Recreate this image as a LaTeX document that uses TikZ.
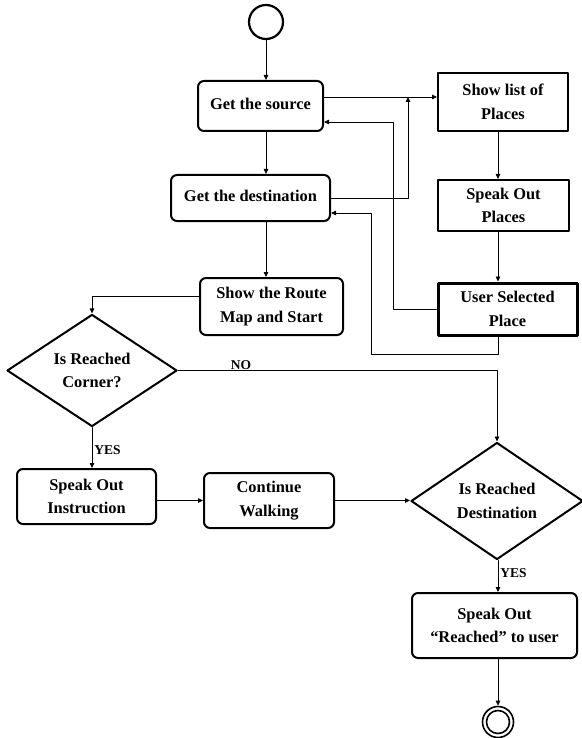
\documentclass[tikz,border=0pt]{standalone}
\usepackage{fontspec}
\setmainfont{Liberation Serif}
\usepackage{tikz}
\usetikzlibrary{arrows.meta}
\usetikzlibrary{shapes.geometric}

\tikzset{
  actbox/.style={draw,line width=2pt,rounded corners=6pt,align=center,inner sep=0pt},
  listbox/.style={draw,line width=2pt,align=center,inner sep=0pt},
  selbox/.style={draw,line width=3pt,align=center,inner sep=0pt},
  decide/.style={draw,diamond,line width=2pt,align=center,inner sep=0pt},
  lbl/.style={font=\bfseries\fontsize{13.5}{15}\selectfont,inner sep=0pt},
}

\begin{document}
\begin{tikzpicture}[line cap=round,line join=round,>={Triangle[length=5pt,width=4.5pt]},x=1pt,y=-1pt,
  font=\bfseries\fontsize{16.4}{23.5}\selectfont,line width=0.8pt]
\useasboundingbox (0,0) rectangle (581,738);
%\draw[help lines] (0,0) grid[step=50] (581,738);
\node[circle,draw,line width=2.2pt,minimum size=34pt] (start) at (266,22) {};
\node[actbox,minimum width=125pt,minimum height=50pt] (src) at (260.5,106) {\raisebox{5pt}{Get the source}};
\node[actbox,minimum width=159pt,minimum height=46pt] (dst) at (250.5,198) {\raisebox{5pt}{Get the destination}};
\node[actbox,minimum width=143pt,minimum height=57pt] (route) at (271.5,306.5) {Show the Route\\Map and Start};
\node[listbox,minimum width=130pt,minimum height=58pt] (list) at (503,102) {Show list of\\Places};
\node[listbox,minimum width=131pt,minimum height=51pt] (spk) at (503.5,205.5) {Speak Out\\Places};
\node[selbox,minimum width=139pt,minimum height=52pt] (usr) at (507.5,309) {User Selected\\Place};
\node[decide,minimum width=170pt,minimum height=111pt] (corner) at (92,370.5) {Is Reached\\Corner?};
\node[actbox,minimum width=139pt,minimum height=55pt] (instr) at (86.5,496.5) {Speak Out\\Instruction};
\node[actbox,minimum width=130pt,minimum height=55pt] (walk) at (269,500.5) {Continue\\Walking};
\node[decide,minimum width=172pt,minimum height=117pt] (destq) at (497,501) {Is Reached\\Destination};
\node[actbox,minimum width=165pt,minimum height=65pt] (reached) at (494.5,625.5) {Speak Out\\“Reached” to user};
\node[circle,draw,line width=1.6pt,minimum size=31pt] (end) at (498,722) {};
\node[circle,draw,line width=1.6pt,minimum size=23pt] (endin) at (end) {};

\coordinate (rcol) at (498,0);
\coordinate (j1) at (408,97);
\coordinate (j2) at (393,122);
\coordinate (j3) at (371,354);
\coordinate (j4) at (371,213);
\coordinate (j5) at (92,296);

\node[lbl] (lblno) at (241,365) {NO};
\node[lbl,anchor=west] (lblyes) at (94,450) {YES};
\node[lbl,anchor=west] (lblyes2) at (500,573) {YES};

\draw[->] (start.south) -- (start |- src.north);
\draw[->] (start |- src.south) -- (start |- dst.north);
\draw[->] (start |- dst.south) -- (start |- route.north);
\draw[->] (src.east |- j1) -- (list.west |- j1);
\draw[->] (dst.east) -| (j1);
\draw[->] (rcol |- list.south) -- (rcol |- spk.north);
\draw[->] (rcol |- spk.south) -- (rcol |- usr.north);
\draw[->] (usr.west) -| (j2) -- (src.east |- j2);
\draw[->] (rcol |- usr.south) -- (rcol |- j3) -- (j3) -- (j4) -- (dst.east |- j4);
\draw[->] (route.west |- j5) -| (corner.north);
\draw[->] (corner.east) -| (destq.north);
\draw[->] (corner.south) -- (corner.south |- instr.north);
\draw[->] (instr.east |- walk) -- (walk.west);
\draw[->] (walk.east) -- (walk.east -| destq.west);
\draw[->] (rcol |- destq.south) -- (rcol |- reached.north);
\draw[->] (rcol |- reached.south) -- (end.north);
\end{tikzpicture}
\end{document}
